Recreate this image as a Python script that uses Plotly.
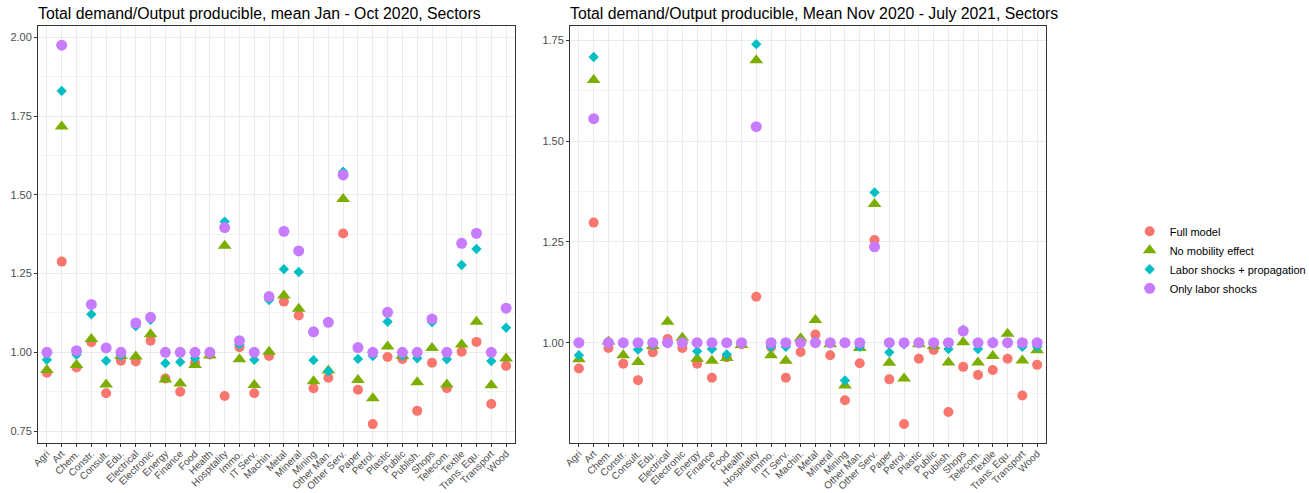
import plotly.graph_objects as go

sectors = ["Agri", "Art", "Chem.", "Constr.", "Consult.", "Edu.", "Electrical", "Electronic",
           "Energy", "Finance", "Food", "Health", "Hospitality", "Immo.", "IT Serv.", "Machin.",
           "Metal", "Mineral", "Mining", "Other Man.", "Other Serv.", "Paper", "Petrol.", "Plastic",
           "Public", "Publish.", "Shops", "Telecom.", "Textile", "Trans. Equ.", "Transport", "Wood"]

series_names = ["Full model", "No mobility effect", "Labor shocks + propagation", "Only labor shocks"]

# Left panel: mean Jan - Oct 2020
left_full = [0.935, 1.288, 0.952, 1.032, 0.870, 0.973, 0.971, 1.037, 0.917, 0.875, 0.967, 0.993,
             0.861, 1.016, 0.870, 0.988, 1.161, 1.117, 0.886, 0.919, 1.377, 0.881, 0.772, 0.985,
             0.979, 0.814, 0.967, 0.886, 1.002, 1.033, 0.836, 0.957]
left_nomob = [0.944, 1.717, 0.960, 1.042, 0.898, 0.988, 0.987, 1.057, 0.914, 0.901, 0.960, 0.990,
              1.338, 0.978, 0.896, 1.002, 1.180, 1.138, 0.908, 0.942, 1.487, 0.912, 0.854, 1.018,
              0.988, 0.905, 1.014, 0.898, 1.025, 1.097, 0.895, 0.980]
left_labprop = [0.976, 1.830, 0.992, 1.121, 0.973, 0.990, 1.083, 1.103, 0.965, 0.969, 0.981, 0.997,
                1.415, 1.025, 0.976, 1.166, 1.264, 1.255, 0.975, 0.940, 1.573, 0.979, 0.988, 1.097,
                0.990, 0.981, 1.095, 0.978, 1.277, 1.328, 0.972, 1.078]
left_labonly = [1.000, 1.975, 1.005, 1.152, 1.014, 1.000, 1.093, 1.111, 1.000, 1.000, 1.000, 1.000,
                1.396, 1.037, 1.000, 1.177, 1.384, 1.322, 1.065, 1.095, 1.563, 1.015, 1.000, 1.127,
                1.000, 1.000, 1.106, 1.000, 1.346, 1.378, 1.000, 1.140]

# Right panel: mean Nov 2020 - July 2021
right_full = [0.936, 1.298, 0.987, 0.948, 0.907, 0.976, 1.009, 0.987, 0.948, 0.913, 0.964, 0.996,
              1.114, 0.989, 0.913, 0.977, 1.020, 0.969, 0.857, 0.949, 1.255, 0.909, 0.798, 0.960,
              0.982, 0.828, 0.940, 0.920, 0.932, 0.960, 0.869, 0.945]
right_nomob = [0.959, 1.652, 1.003, 0.969, 0.952, 0.992, 1.052, 1.012, 0.960, 0.955, 0.962, 0.994,
               1.701, 0.969, 0.955, 1.011, 1.056, 0.996, 0.894, 0.987, 1.344, 0.950, 0.911, 0.996,
               0.992, 0.951, 1.001, 0.951, 0.967, 1.022, 0.956, 0.981]
right_labprop = [0.969, 1.709, 0.998, 0.998, 0.983, 0.995, 1.000, 1.000, 0.979, 0.984, 0.971, 0.998,
                 1.741, 0.990, 0.990, 1.000, 1.003, 0.998, 0.906, 0.990, 1.373, 0.976, 0.996, 1.000,
                 0.996, 0.984, 1.032, 0.984, 1.002, 1.000, 0.990, 0.990]
right_labonly = [1.000, 1.556, 1.000, 1.000, 1.000, 1.000, 1.000, 1.000, 1.000, 1.000, 1.000, 1.000,
                 1.536, 1.000, 1.000, 1.000, 1.000, 1.000, 1.000, 1.000, 1.238, 1.000, 1.000, 1.000,
                 1.000, 1.000, 1.029, 1.000, 1.000, 1.000, 1.000, 1.000]

left_title = "Total demand/Output producible, mean Jan - Oct 2020, Sectors"
right_title = "Total demand/Output producible, Mean Nov 2020 - July 2021, Sectors"

colors = ["#F8766D", "#7CAE00", "#00BFC4", "#C77CFF"]
symbols = ["circle", "triangle-up", "diamond", "circle"]
sizes = [10, 12, 8, 11]

FONT = "Liberation Sans, Arial, sans-serif"

fig = go.Figure()
left_data = [left_full, left_nomob, left_labprop, left_labonly]
right_data = [right_full, right_nomob, right_labprop, right_labonly]

for k in range(4):
    fig.add_trace(go.Scatter(
        x=sectors, y=left_data[k], mode="markers", name=series_names[k], showlegend=True,
        marker=dict(color=colors[k], symbol=symbols[k], size=sizes[k], line=dict(width=0)),
        xaxis="x", yaxis="y"))
for k in range(4):
    fig.add_trace(go.Scatter(
        x=sectors, y=right_data[k], mode="markers", name=series_names[k], showlegend=False,
        marker=dict(color=colors[k], symbol=symbols[k], size=sizes[k], line=dict(width=0)),
        xaxis="x2", yaxis="y2"))

grid = "#EBEBEB"
frame = "#333333"
tickfont = dict(family=FONT, size=11, color="#4D4D4D")
xtickfont = dict(family=FONT, size=10, color="#4D4D4D")

xcommon = dict(type="category", categoryorder="array", categoryarray=sectors,
               range=[-0.6, len(sectors) - 0.4], showgrid=True, gridcolor=grid, gridwidth=1,
               showline=True, mirror=True, linecolor=frame, linewidth=1,
               ticks="outside", ticklen=3, tickcolor=frame, tickwidth=1,
               tickangle=-45, tickfont=xtickfont, ticklabelstandoff=-3,
               zeroline=False, automargin=False)
ycommon = dict(showgrid=True, gridcolor=grid, gridwidth=1,
               showline=True, mirror=True, linecolor=frame, linewidth=1,
               ticks="outside", ticklen=3, tickcolor=frame, tickwidth=1,
               tickfont=tickfont, zeroline=False, tickformat=".2f", automargin=False,
               tickmode="linear", tick0=0.75, dtick=0.25,
               minor=dict(dtick=0.125, tick0=0.75, showgrid=True, gridcolor="#F3F3F3", gridwidth=0.5, ticks=""))

fig.update_layout(
    width=1309, height=493, autosize=False,
    margin=dict(l=38, r=263, t=26, b=50),
    plot_bgcolor="white", paper_bgcolor="white",
    font=dict(family=FONT, size=11, color="black"),
    xaxis=dict(domain=[0, 0.4732], anchor="y", **xcommon),
    xaxis2=dict(domain=[0.5278, 1.0], anchor="y2", **xcommon),
    yaxis=dict(domain=[0, 1], anchor="x", range=[0.712, 2.036], **ycommon),
    yaxis2=dict(domain=[0, 1], anchor="x2", range=[0.751, 1.786], **ycommon),
    legend=dict(xref="container", yref="container", x=0.863, y=0.473,
                xanchor="left", yanchor="middle", tracegroupgap=0,
                font=dict(family=FONT, size=11, color="black"),
                bgcolor="rgba(0,0,0,0)", itemsizing="trace"),
    annotations=[
        dict(text=left_title, xref="x domain", yref="paper", x=0, y=1, xanchor="left",
             yanchor="bottom", yshift=2, xshift=-2, showarrow=False,
             font=dict(family=FONT, size=15.8, color="black")),
        dict(text=right_title, xref="x2 domain", yref="paper", x=0, y=1, xanchor="left",
             yanchor="bottom", yshift=2, xshift=-2, showarrow=False,
             font=dict(family=FONT, size=15.8, color="black")),
    ],
)

fig.write_html("out.html",
               config={"responsive": False, "displayModeBar": False},
               post_script="document.body.style.margin='0';document.body.style.overflow='hidden';")
